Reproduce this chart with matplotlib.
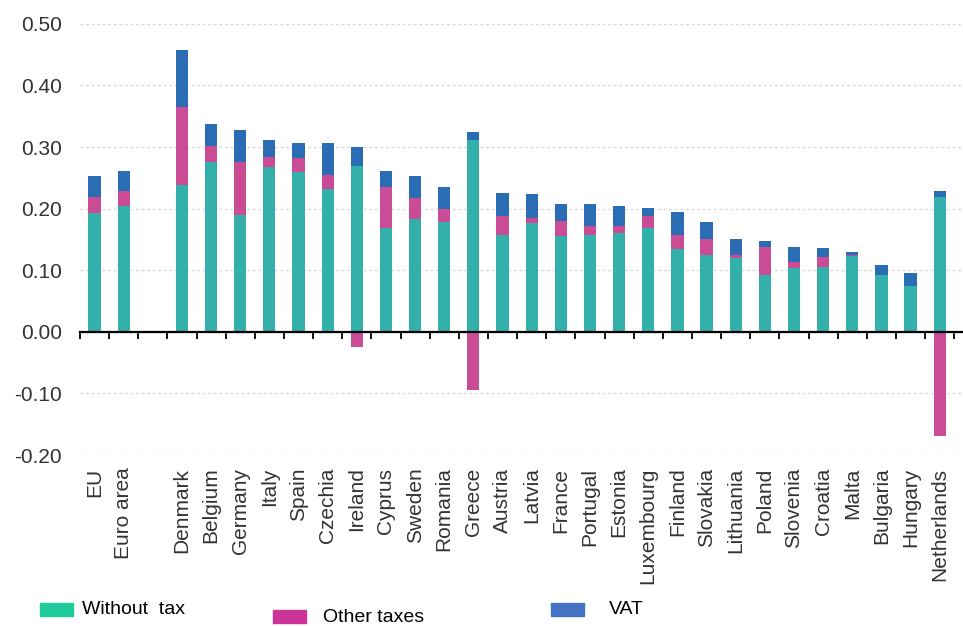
import numpy as np
import matplotlib
matplotlib.use('Agg')
import matplotlib.pyplot as plt
from matplotlib.patches import Rectangle

plt.rcParams['font.family'] = ['Liberation Sans', 'DejaVu Sans']

# 국가별 전력 가격 구성 (EUR/kWh)
countries = ["EU", "Euro area", "Denmark", "Belgium", "Germany", "Italy", "Spain",
             "Czechia", "Ireland", "Cyprus", "Sweden", "Romania", "Greece", "Austria",
             "Latvia", "France", "Portugal", "Estonia", "Luxembourg", "Finland",
             "Slovakia", "Lithuania", "Poland", "Slovenia", "Croatia", "Malta",
             "Bulgaria", "Hungary", "Netherlands"]
without_tax = [0.193, 0.205, 0.238, 0.275, 0.190, 0.267, 0.259, 0.232, 0.270, 0.169,
               0.183, 0.178, 0.312, 0.158, 0.177, 0.156, 0.158, 0.160, 0.168, 0.135,
               0.124, 0.120, 0.092, 0.103, 0.106, 0.123, 0.092, 0.075, 0.219]
other_taxes = [0.026, 0.023, 0.127, 0.026, 0.086, 0.016, 0.023, 0.022, -0.025, 0.066,
               0.035, 0.021, -0.094, 0.030, 0.008, 0.024, 0.014, 0.012, 0.020, 0.022,
               0.026, 0.004, 0.045, 0.011, 0.015, 0.001, 0.0, 0.0, -0.169]
vat = [0.034, 0.033, 0.092, 0.037, 0.051, 0.029, 0.024, 0.052, 0.030, 0.026,
       0.035, 0.036, 0.013, 0.037, 0.038, 0.028, 0.035, 0.033, 0.013, 0.037,
       0.029, 0.026, 0.010, 0.024, 0.015, 0.005, 0.017, 0.020, 0.010]

series_names = ["Without  tax", "Other taxes", "VAT"]
bar_colors = ["#34b0ac", "#c94c94", "#2b6db5"]
legend_colors = ["#1ec99a", "#cc3399", "#4472c4"]

wt = np.array(without_tax)
ot = np.array(other_taxes)
vt = np.array(vat)

# EU, Euro area 다음에 빈 칸 하나
x = np.arange(len(countries)) + (np.arange(len(countries)) >= 2)

fig = plt.figure(figsize=(9.63, 6.26), dpi=100)
ax = fig.add_axes([0.083, 0.273, 0.917, 0.689])

w = 0.42
ax.bar(x, wt, w, color=bar_colors[0], zorder=2)
ot_bottom = np.where(ot >= 0, wt, 0)
ax.bar(x, ot, w, bottom=ot_bottom, color=bar_colors[1], zorder=2)
vat_bottom = wt + np.clip(ot, 0, None)
ax.bar(x, vt, w, bottom=vat_bottom, color=bar_colors[2], zorder=2)

ax.set_ylim(-0.2, 0.5)
ax.set_xlim(-0.5, x[-1] + 0.8)
ax.set_yticks(np.arange(-0.2, 0.51, 0.1))
ax.set_yticklabels([f"{v:.2f}" for v in np.arange(-0.2, 0.51, 0.1)])
ax.tick_params(axis='y', length=0, pad=13, labelsize=15, labelcolor='#333333')
ax.yaxis.grid(True, linestyle=(0, (2, 2)), color='#d8d8d8', linewidth=1, zorder=0)

for s in ['top', 'right', 'left']:
    ax.spines[s].set_visible(False)
ax.spines['bottom'].set_position(('data', 0))
ax.spines['bottom'].set_linewidth(1.6)
ax.spines['bottom'].set_zorder(3)
ax.set_xticks(np.arange(-0.5, x[-1] + 0.6, 1.0))
ax.set_xticklabels([])
ax.tick_params(axis='x', direction='out', length=5, width=1.3, color='black')

# 국가 라벨은 축 하단에
sec = ax.secondary_xaxis('bottom')
sec.set_xticks(x)
sec.set_xticklabels(countries, rotation=90)
sec.tick_params(length=0, pad=9, labelsize=15, labelcolor='#333333')
sec.spines['bottom'].set_visible(False)

# 범례
leg_font = ['Liberation Sans Narrow', 'Liberation Sans', 'DejaVu Sans']
leg_pos = [(40, 603, 82), (273, 610, 323), (551, 603, 609)]
for (px, py, tx), name, c in zip(leg_pos, series_names, legend_colors):
    fig.patches.append(Rectangle((px / 963, 1 - (py + 13) / 626), 33 / 963, 13 / 626,
                                 transform=fig.transFigure, color=c))
    fig.text(tx / 963, 1 - (py + 7) / 626, name, fontsize=14, va='center',
             family=leg_font, color='black')

plt.savefig("out.png", dpi=100)
